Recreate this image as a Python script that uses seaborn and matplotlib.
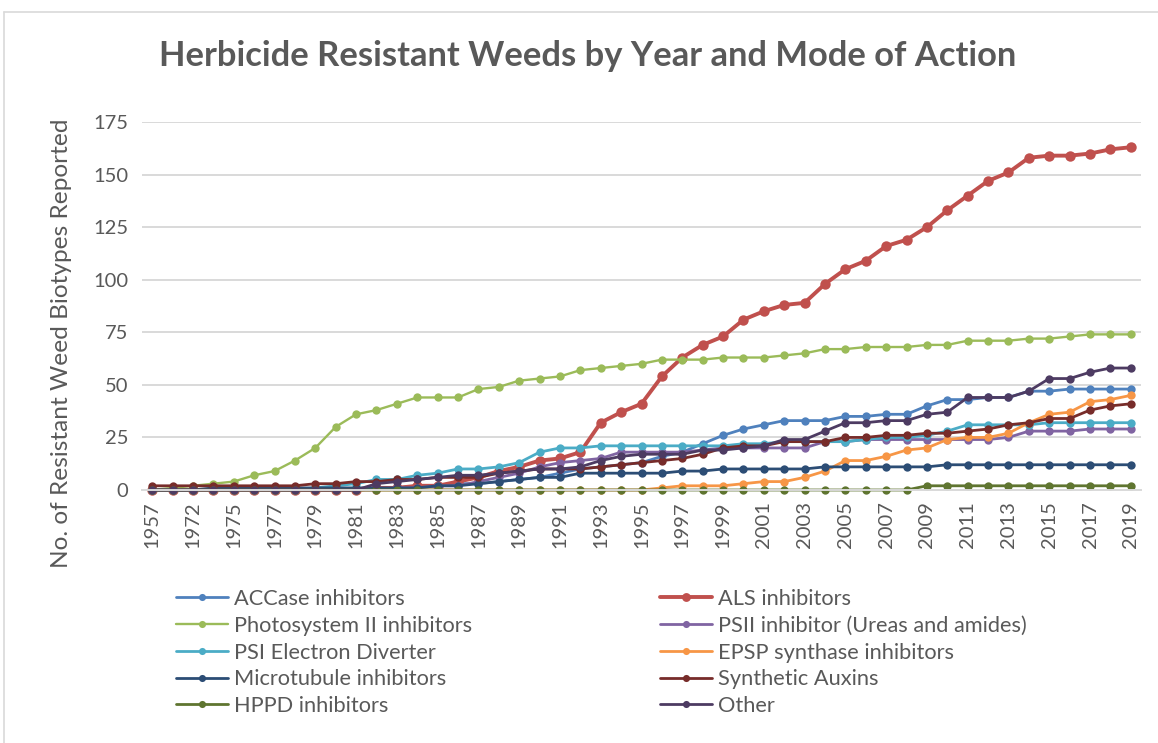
import matplotlib
matplotlib.use("Agg")
import matplotlib.pyplot as plt
from matplotlib.lines import Line2D
import seaborn as sns
import pandas as pd

# Categories (year of first report)
years = [1957, 1970, 1972, 1974, 1975, 1976, 1977, 1978, 1979, 1980,
         1981, 1982, 1983, 1984, 1985, 1986, 1987, 1988, 1989, 1990,
         1991, 1992, 1993, 1994, 1995, 1996, 1997, 1998, 1999, 2000,
         2001, 2002, 2003, 2004, 2005, 2006, 2007, 2008, 2009, 2010,
         2011, 2012, 2013, 2014, 2015, 2016, 2017, 2018, 2019]

accase = [0, 0, 0, 0, 0, 0, 0, 0, 0, 0,
          0, 1, 1, 2, 2, 3, 3, 4, 5, 6,
          8, 10, 11, 12, 13, 16, 18, 22, 26, 29,
          31, 33, 33, 33, 35, 35, 36, 36, 40, 43,
          43, 44, 44, 47, 47, 48, 48, 48, 48]
als = [0, 0, 0, 0, 0, 0, 0, 0, 0, 0,
       0, 1, 1, 2, 2, 4, 6, 9, 11, 14,
       15, 18, 32, 37, 41, 54, 63, 69, 73, 81,
       85, 88, 89, 98, 105, 109, 116, 119, 125, 133,
       140, 147, 151, 158, 159, 159, 160, 162, 163]
psii = [0, 1, 2, 3, 4, 7, 9, 14, 20, 30,
        36, 38, 41, 44, 44, 44, 48, 49, 52, 53,
        54, 57, 58, 59, 60, 62, 62, 62, 63, 63,
        63, 64, 65, 67, 67, 68, 68, 68, 69, 69,
        71, 71, 71, 72, 72, 73, 74, 74, 74]
psii_ureas = [0, 0, 0, 0, 0, 0, 0, 0, 0, 0,
              0, 0, 1, 1, 2, 2, 4, 6, 8, 11,
              13, 14, 15, 18, 18, 18, 18, 19, 20, 20,
              20, 20, 20, 23, 23, 24, 24, 24, 24, 24,
              24, 24, 25, 28, 28, 28, 29, 29, 29]
psi = [0, 0, 0, 0, 0, 0, 0, 0, 1, 2,
       3, 5, 5, 7, 8, 10, 10, 11, 13, 18,
       20, 20, 21, 21, 21, 21, 21, 21, 21, 22,
       22, 23, 23, 23, 23, 24, 25, 25, 26, 28,
       31, 31, 31, 31, 32, 32, 32, 32, 32]
epsp = [0, 0, 0, 0, 0, 0, 0, 0, 0, 0,
        0, 0, 0, 0, 0, 0, 0, 0, 0, 0,
        0, 0, 0, 0, 0, 1, 2, 2, 2, 3,
        4, 4, 6, 9, 14, 14, 16, 19, 20, 24,
        25, 25, 27, 32, 36, 37, 42, 43, 45]
microtubule = [0, 0, 0, 1, 1, 1, 1, 1, 1, 1,
               1, 1, 1, 1, 2, 2, 3, 4, 5, 6,
               6, 8, 8, 8, 8, 8, 9, 9, 10, 10,
               10, 10, 10, 11, 11, 11, 11, 11, 11, 12,
               12, 12, 12, 12, 12, 12, 12, 12, 12]
auxins = [2, 2, 2, 2, 2, 2, 2, 2, 3, 3,
          4, 4, 5, 5, 6, 6, 6, 8, 9, 10,
          10, 10, 11, 12, 13, 14, 15, 17, 20, 21,
          21, 23, 23, 23, 25, 25, 26, 26, 27, 27,
          28, 29, 31, 32, 34, 34, 38, 40, 41]
hppd = [0, 0, 0, 0, 0, 0, 0, 0, 0, 0,
        0, 0, 0, 0, 0, 0, 0, 0, 0, 0,
        0, 0, 0, 0, 0, 0, 0, 0, 0, 0,
        0, 0, 0, 0, 0, 0, 0, 0, 2, 2,
        2, 2, 2, 2, 2, 2, 2, 2, 2]
other = [0, 0, 0, 0, 0, 0, 0, 0, 0, 0,
         0, 3, 4, 5, 6, 7, 7, 8, 9, 10,
         10, 11, 14, 16, 17, 17, 17, 19, 19, 20,
         21, 24, 24, 28, 32, 32, 33, 33, 36, 37,
         44, 44, 44, 47, 53, 53, 56, 58, 58]

series_names = ["ACCase inhibitors", "ALS inhibitors", "Photosystem II inhibitors",
                "PSII inhibitor (Ureas and amides)", "PSI Electron Diverter",
                "EPSP synthase inhibitors", "Microtubule inhibitors",
                "Synthetic Auxins", "HPPD inhibitors", "Other"]
series_values = [accase, als, psii, psii_ureas, psi, epsp, microtubule, auxins, hppd, other]
colors = ["#4F81BD", "#C0504D", "#9BBB59", "#8064A2", "#4BACC6",
          "#F79646", "#2C4D75", "#772C2A", "#5F7530", "#4D3B62"]

df = pd.DataFrame({"pos": range(len(years))})
for name, vals in zip(series_names, series_values):
    df[name] = vals

sns.set_theme(style="white")
plt.rcParams["font.family"] = ["Lato", "DejaVu Sans"]
TXT = "#595959"
GRID = "#D9D9D9"

W, H = 1158, 743
fig = plt.figure(figsize=(W / 100, H / 100), dpi=100)
ax = fig.add_axes([142 / W, 1 - 490 / H, (1141 - 142) / W, (490 - 122) / H])

handles = {}
for name, col in zip(series_names, colors):
    if name == "ALS inhibitors":
        lw, ms = 2.8, 7.5
    elif name == "Photosystem II inhibitors":
        lw, ms = 1.7, 6.0
    else:
        lw, ms = 2.0, 6.0
    sns.lineplot(data=df, x="pos", y=name, ax=ax, color=col, lw=lw,
                 marker="o", markersize=ms, markeredgewidth=0, clip_on=False)
    handles[name] = Line2D([0], [0], color=col, lw=lw, marker="o",
                           markersize=ms * 0.85, markeredgewidth=0)

ax.set_xlim(-0.5, len(years) - 0.5)
ax.set_ylim(0, 175)
ax.set_yticks(range(0, 176, 25))
ax.yaxis.grid(True, color=GRID, lw=1.4)
ax.set_axisbelow(True)
for s in ["top", "right", "left"]:
    ax.spines[s].set_visible(False)
ax.spines["bottom"].set_color(GRID)
ax.spines["bottom"].set_linewidth(1.4)

tick_pos = list(range(0, len(years), 2))
ax.set_xticks(tick_pos)
ax.set_xticklabels([str(years[i]) for i in tick_pos], rotation=90)
ax.tick_params(axis="both", length=0, labelsize=14.5, colors=TXT)
ax.tick_params(axis="x", pad=8)
ax.tick_params(axis="y", pad=10)
ax.set_xlabel("")
ax.set_ylabel("")

fig.text(62 / W, 1 - 343 / H, "No. of Resistant Weed Biotypes Reported",
         rotation=90, ha="center", va="center", fontsize=17.6, color=TXT)
fig.text(588 / W, 1 - 56 / H, "Herbicide Resistant Weeds by Year and Mode of Action",
         ha="center", va="center", fontsize=24.8, fontweight="bold", color=TXT)

left_names = series_names[0::2]
right_names = series_names[1::2]
common = dict(loc="upper left", bbox_transform=fig.transFigure, frameon=False,
              fontsize=15.7, handlelength=2.4, handletextpad=0.25, labelspacing=0.31,
              borderpad=0, borderaxespad=0, labelcolor=TXT)
leg1 = ax.legend([handles[n] for n in left_names], left_names,
                 bbox_to_anchor=(176 / W, 1 - 589 / H), **common)
ax.add_artist(leg1)
ax.legend([handles[n] for n in right_names], right_names,
          bbox_to_anchor=(660 / W, 1 - 589 / H), **common)

# chart frame
fig.add_artist(Line2D([4 / W, 1], [1 - 12 / H, 1 - 12 / H], transform=fig.transFigure,
                      color=GRID, lw=1.2))
fig.add_artist(Line2D([4 / W, 4 / W], [0, 1 - 12 / H], transform=fig.transFigure,
                      color=GRID, lw=1.2))

fig.savefig("out.png", dpi=100, facecolor="white")
